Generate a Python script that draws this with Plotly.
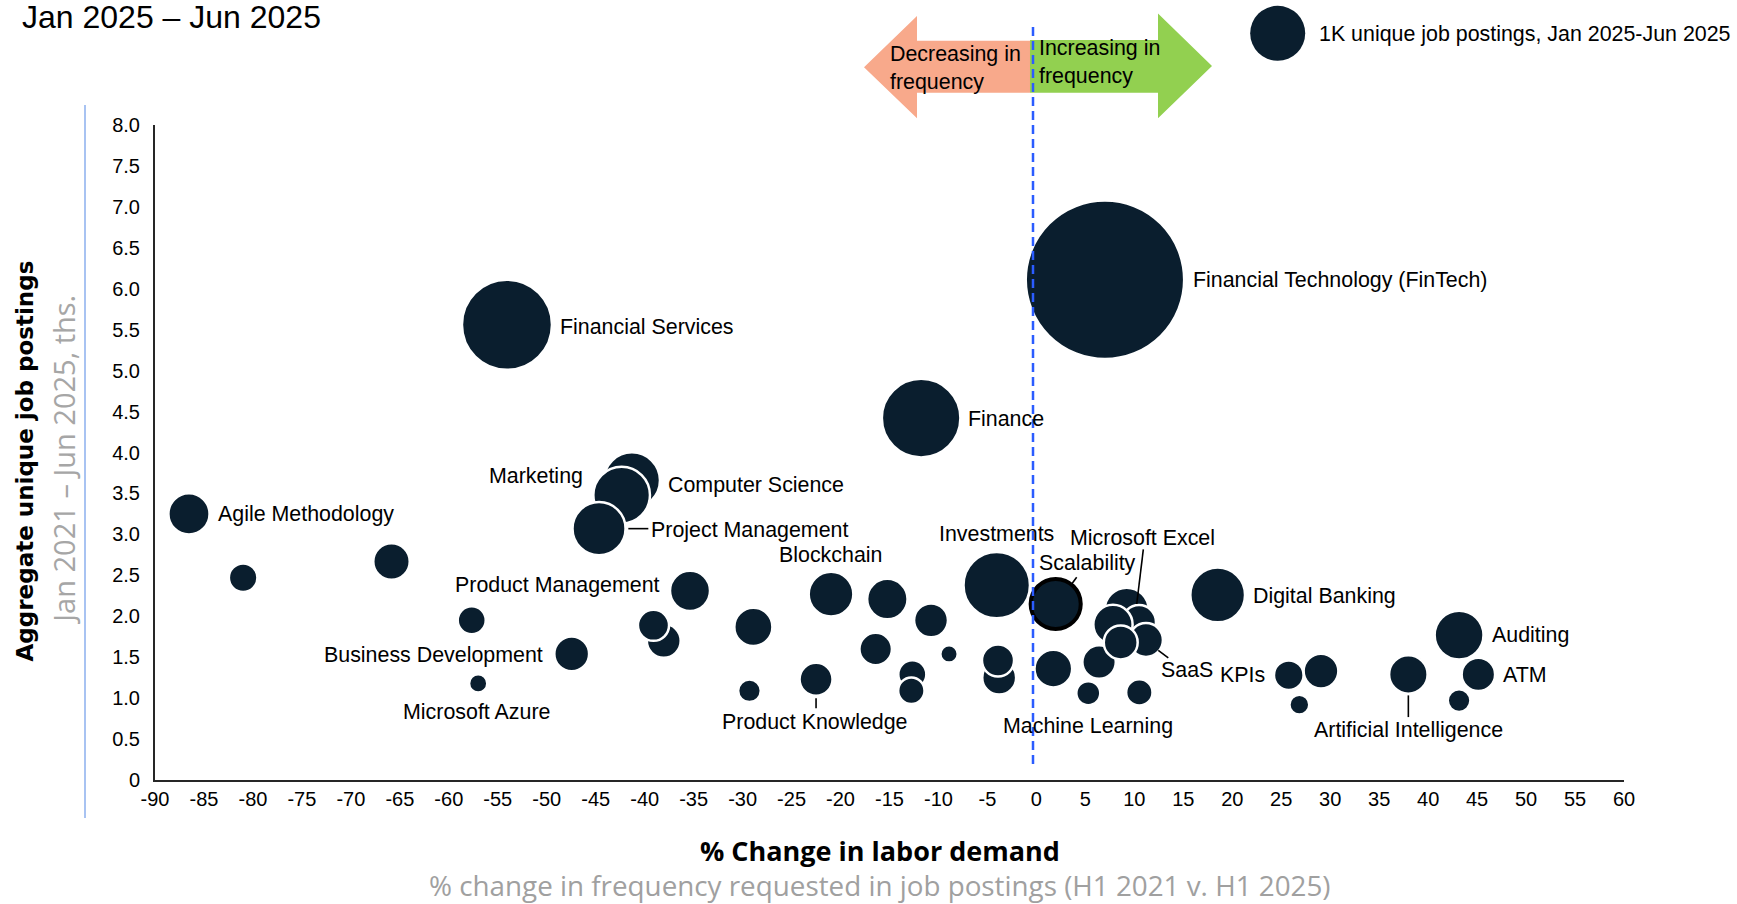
import math
import plotly.graph_objects as go

# ---------------- data ----------------
skills = [
    "Financial Technology (FinTech)", "Financial Services", "Finance",
    "Computer Science", "Marketing", "Project Management", "Agile Methodology",
    "", "", "", "Microsoft Azure", "Business Development", "Product Management",
    "", "", "", "", "Product Knowledge", "Blockchain", "", "", "", "", "", "",
    "Investments", "", "", "Scalability", "", "", "Machine Learning", "",
    "", "Microsoft Excel", "", "SaaS", "", "Digital Banking", "", "KPIs", "",
    "Artificial Intelligence", "Auditing", "ATM", "",
]
pct_change = [
    7.0, -54.06, -11.77,
    -41.3, -42.35, -44.66, -86.53,
    -81.0, -65.85, -57.66, -57.0, -47.45, -35.37,
    -38.05, -39.1, -28.9, -29.3, -22.5, -20.97, -15.22, -16.41, -10.76, -8.92, -12.67, -12.77,
    -4.05, -3.8, -3.92, 1.97, 1.73, 6.40, 5.30, 10.51,
    9.22, 10.48, 7.82, 11.19, 8.61, 18.51, 29.06, 25.77, 26.85,
    37.98, 43.16, 45.13, 43.16,
]
postings_2021_2025 = [
    6.11, 5.56, 4.42,
    3.66, 3.48, 3.07, 3.25,
    2.47, 2.67, 1.95, 1.18, 1.54, 2.31,
    1.70, 1.89, 1.87, 1.09, 1.23, 2.27, 2.21, 1.60, 1.95, 1.54, 1.29, 1.09,
    2.38, 1.25, 1.46, 2.15, 1.36, 1.44, 1.06, 1.07,
    2.08, 1.93, 1.90, 1.71, 1.68, 2.26, 1.33, 1.28, 0.92,
    1.29, 1.77, 1.29, 0.97,
]
postings_h1_2025 = [
    8.3, 2.68, 2.04,
    1.04, 1.06, 0.93, 0.56,
    0.27, 0.44, 0.26, 0.11, 0.40, 0.53,
    0.38, 0.32, 0.48, 0.17, 0.36, 0.66, 0.54, 0.35, 0.38, 0.10, 0.26, 0.23,
    1.46, 0.38, 0.34, 0.83, 0.47, 0.37, 0.19, 0.23,
    0.64, 0.38, 0.51, 0.38, 0.38, 0.99, 0.40, 0.29, 0.13,
    0.49, 0.79, 0.37, 0.17,
]
legend_value = 1.0
legend_text = "1K unique job postings, Jan 2025-Jun 2025"

x_ticks = list(range(-90, 61, 5))
y_ticks = [0, 0.5, 1, 1.5, 2, 2.5, 3, 3.5, 4, 4.5, 5, 5.5, 6, 6.5, 7, 7.5, 8]
y_ticktext = ["0", "0.5", "1.0", "1.5", "2.0", "2.5", "3.0", "3.5", "4.0", "4.5",
              "5.0", "5.5", "6.0", "6.5", "7.0", "7.5", "8.0"]

title_text = "Jan 2025 \u2013 Jun 2025"
ytitle = "Aggregate unique job postings"
ysub = "Jan 2021 \u2013 Jun 2025, ths."
xtitle = "% Change in labor demand"
xsub = "% change in frequency requested in job postings (H1 2021 v. H1 2025)"
highlight = "Scalability"

# ---------------- layout geometry ----------------
FW, FH = 1737, 904
L, R, T, B = 155, 113, 125, 124
PW, PH = FW - L - R, FH - T - B


def px(xp):
    return (xp - L) / PW


def py(yp):
    return (FH - B - yp) / PH


BUBBLE_COLOR = "#0A1E2E"
SIZEREF = 2.0 * 1.0 / (55.0 ** 2)   # 1K postings -> 55 px bubble


def bubble_radius(v):
    # same rule plotly uses for sizemode='area' bubbles
    return math.sqrt((v / 2.0) / SIZEREF)


LABEL_FONT = dict(family="Liberation Sans, Arial, sans-serif", size=21.4, color="black")

# label placement: name -> (xanchor, dx px, dy px downward)
label_pos = {
    "Financial Technology (FinTech)": ("left", 86, 0),
    "Financial Services": ("left", 51, 2),
    "Finance": ("left", 45, 0.5),
    "Computer Science": ("left", 34, 5),
    "Marketing": ("right", -37, -19),
    "Project Management": ("left", 50, 1),
    "Agile Methodology": ("left", 27, 0.3),
    "Product Management": ("right", -28, -5.7),
    "Business Development": ("right", -26.5, 1),
    "Microsoft Azure": ("center", -1.3, 29),
    "Blockchain": ("center", -0.5, -39),
    "Product Knowledge": ("center", -0.6, 43),
    "Investments": ("center", -0.5, -51),
    "Scalability": ("left", -18.5, -40.7),
    "Microsoft Excel": ("left", -71, -83.7),
    "SaaS": ("left", 12.7, 30.3),
    "Machine Learning": ("center", -0.5, 32.3),
    "Digital Banking": ("left", 33.3, 1),
    "KPIs": ("right", -21.7, 0),
    "Artificial Intelligence": ("center", -0.3, 56),
    "Auditing": ("left", 31.3, 0),
    "ATM": ("left", 22.4, 1),
}
# leader lines: name -> (dx0, dy0, dx1, dy1) px, y downward
leaders = {
    "Project Management": (29.3, 0, 49.3, 0),
    "Product Knowledge": (0, 19, 0, 29),
    "Artificial Intelligence": (0, 21, 0, 42.7),
    "Scalability": (16, -20, 21, -26.7),
    "Microsoft Excel": (-2.3, -18, 4.3, -72.7),
    "SaaS": (12.3, 10.3, 22.3, 18),
}

line_colors = ["black" if s == highlight else "white" for s in skills]
line_widths = [4 if s == highlight else 2.5 for s in skills]

fig = go.Figure()
fig.add_trace(go.Scatter(
    x=pct_change, y=postings_2021_2025, mode="markers",
    marker=dict(size=postings_h1_2025, sizemode="area", sizeref=SIZEREF,
                color=BUBBLE_COLOR, opacity=1,
                line=dict(color=line_colors, width=line_widths)),
    text=skills, hoverinfo="text+x+y", cliponaxis=False,
))

annotations = []
shapes = []
for s, xv, yv in zip(skills, pct_change, postings_2021_2025):
    if s in label_pos:
        anc, dx, dy = label_pos[s]
        annotations.append(dict(
            x=xv, y=yv, xref="x", yref="y", text=s, showarrow=False,
            xanchor=anc, yanchor="middle", xshift=dx, yshift=-dy, font=LABEL_FONT))
    if s in leaders:
        x0, y0, x1, y1 = leaders[s]
        shapes.append(dict(
            type="line", xref="x", yref="y", xsizemode="pixel", ysizemode="pixel",
            xanchor=xv, yanchor=yv, x0=x0, y0=-y0, x1=x1, y1=-y1,
            line=dict(color="black", width=1.6), layer="above"))

# legend bubble (1K postings), sized by the same area rule as the markers
r_leg = bubble_radius(legend_value)
shapes.append(dict(type="circle", xref="paper", yref="paper",
                   xsizemode="pixel", ysizemode="pixel",
                   xanchor=px(1277.7), yanchor=py(33.3),
                   x0=-r_leg, x1=r_leg, y0=-r_leg, y1=r_leg,
                   fillcolor=BUBBLE_COLOR, line=dict(width=0), layer="above"))

# arrows
left_arrow = [(864, 67.3), (917, 16), (917, 40.7), (1030, 40.7), (1030, 92.7),
              (917, 92.7), (917, 118.3)]
right_arrow = [(1030, 40), (1158, 40), (1158, 13.5), (1212, 66), (1158, 118.3),
               (1158, 92.7), (1030, 92.7)]


def poly(pts):
    return "M " + " L ".join(f"{px(a):.5f},{py(b):.5f}" for a, b in pts) + " Z"


shapes.append(dict(type="path", xref="paper", yref="paper", path=poly(left_arrow),
                   fillcolor="#F8A98B", line=dict(width=0), layer="below"))
shapes.append(dict(type="path", xref="paper", yref="paper", path=poly(right_arrow),
                   fillcolor="#92D050", line=dict(width=0), layer="below"))

# zero reference dashed line
shapes.append(dict(type="line", xref="paper", yref="paper",
                   x0=px(1033), x1=px(1033), y0=py(764), y1=py(25),
                   line=dict(color="#2B5CFF", width=2.5, dash="9px,5px"), layer="above"))
# light blue vertical separator
shapes.append(dict(type="line", xref="paper", yref="paper",
                   x0=px(85), x1=px(85), y0=py(105), y1=py(818),
                   line=dict(color="#A8C3F2", width=2)))

annotations += [
    dict(xref="paper", yref="paper", x=px(888), y=py(68), text="Decreasing in<br>frequency",
         showarrow=False, xanchor="left", yanchor="middle", align="left", font=LABEL_FONT),
    dict(xref="paper", yref="paper", x=px(1037), y=py(62.5), text="Increasing in<br>frequency",
         showarrow=False, xanchor="left", yanchor="middle", align="left", font=LABEL_FONT),
    dict(xref="paper", yref="paper", x=px(1317), y=py(34), text=legend_text,
         showarrow=False, xanchor="left", yanchor="middle", font=LABEL_FONT),
    dict(xref="paper", yref="paper", x=px(22), y=py(-1), text=title_text,
         showarrow=False, xanchor="left", yanchor="top", borderpad=0, borderwidth=0,
         font=dict(family="Liberation Sans, Arial, sans-serif", size=32, color="black")),
    dict(xref="paper", yref="paper", x=px(24.5), y=py(461), text=ytitle, textangle=-90,
         showarrow=False, xanchor="center", yanchor="middle",
         font=dict(family="DejaVu Sans, Verdana, sans-serif", size=23, color="black", weight="bold")),
    dict(xref="paper", yref="paper", x=px(62.7), y=py(460), text=ysub, textangle=-90,
         showarrow=False, xanchor="center", yanchor="middle",
         font=dict(family="Open Sans, sans-serif", size=29, color="#A6A6A6")),
    dict(xref="paper", yref="paper", x=px(880), y=py(850), text=xtitle,
         showarrow=False, xanchor="center", yanchor="middle",
         font=dict(family="Open Sans, sans-serif", size=27, color="black", weight="bold")),
    dict(xref="paper", yref="paper", x=px(880), y=py(885), text=xsub,
         showarrow=False, xanchor="center", yanchor="middle",
         font=dict(family="Open Sans, sans-serif", size=27.8, color="#A0A0A0")),
]

fig.update_layout(
    width=FW, height=FH, autosize=False,
    margin=dict(l=L, r=R, t=T, b=B, pad=0),
    paper_bgcolor="white", plot_bgcolor="white", showlegend=False,
    font=dict(family="Liberation Sans, Arial, sans-serif", color="black"),
    xaxis=dict(range=[-90, 60], tickmode="array", tickvals=x_ticks,
               ticktext=[str(v) for v in x_ticks], automargin=False,
               showgrid=False, zeroline=False, showline=True, linecolor="#262626",
               linewidth=2, ticks="",
               tickfont=dict(family="Liberation Sans Narrow, Liberation Sans, Arial", size=20, color="black"),
               fixedrange=True),
    yaxis=dict(range=[0, 8], tickmode="array", tickvals=y_ticks, ticktext=y_ticktext,
               automargin=False,
               showgrid=False, zeroline=False, showline=True, linecolor="#262626",
               linewidth=2, ticks="outside", ticklen=9, tickcolor="rgba(0,0,0,0)",
               tickfont=dict(family="Liberation Sans, Arial", size=20, color="black"),
               fixedrange=True),
    annotations=annotations, shapes=shapes,
)

fig.write_html("out.html", config={"displayModeBar": False},
               post_script="document.body.style.margin='0';")
